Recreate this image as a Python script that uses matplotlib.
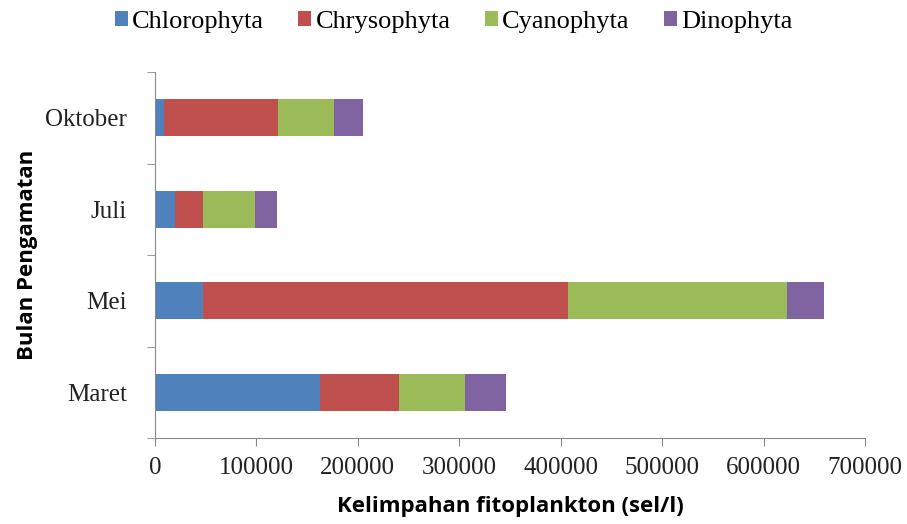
import matplotlib.pyplot as plt
import numpy as np

bulan = ['Maret', 'Mei', 'Juli', 'Oktober']
chlorophyta = [162500, 47000, 20000, 9000]
chrysophyta = [78500, 360000, 27600, 112000]
cyanophyta = [65000, 216000, 51400, 55000]
dinophyta = [40000, 37000, 21000, 29000]

kelompok = ['Chlorophyta', 'Chrysophyta', 'Cyanophyta', 'Dinophyta']
warna = ['#4F81BD', '#C0504D', '#9BBB59', '#8064A2']
xticks = [0, 100000, 200000, 300000, 400000, 500000, 600000, 700000]

fig = plt.figure(figsize=(9.07, 5.24), dpi=100)
ax = fig.add_axes([155 / 907, 1 - 438 / 524, 710 / 907, 366 / 524])

serif = 'Liberation Serif'
y = np.arange(len(bulan))
left = np.zeros(len(bulan))
for nama, data, c in zip(kelompok, [chlorophyta, chrysophyta, cyanophyta, dinophyta], warna):
    ax.barh(y, data, left=left, height=0.4, color=c, label=nama)
    left += np.array(data)

ax.set_xlim(0, 700000)
ax.set_ylim(-0.5, 3.5)
ax.set_xticks(xticks)
ax.set_xticklabels([str(v) for v in xticks], fontfamily=serif, fontsize=18, color='#222222')
ax.set_yticks(y)
ax.set_yticklabels(bulan, fontfamily=serif, fontsize=18, color='#222222')
ax.set_yticks([-0.5, 0.5, 1.5, 2.5, 3.5], minor=True)
ax.tick_params(axis='y', which='major', length=0, pad=20)
ax.tick_params(axis='y', which='minor', length=6, color='#888888')
ax.tick_params(axis='x', length=6, color='#888888', pad=8)

for s in ['top', 'right']:
    ax.spines[s].set_visible(False)
ax.spines['left'].set_color('#888888')
ax.spines['bottom'].set_color('#888888')

ax.set_xlabel('Kelimpahan fitoplankton (sel/l)', fontfamily='Open Sans', fontweight='bold',
              fontsize=16, labelpad=12)
ax.set_ylabel('Bulan Pengamatan', fontfamily='Open Sans', fontweight='bold', fontsize=16,
              labelpad=5)

fig.legend(loc='upper center', bbox_to_anchor=(0.5, 1.025), ncol=4, frameon=False,
           prop={'family': serif, 'size': 19}, handlelength=0.5, handleheight=0.5,
           handletextpad=0.15, columnspacing=1.3)

fig.savefig('out.png', dpi=100)
